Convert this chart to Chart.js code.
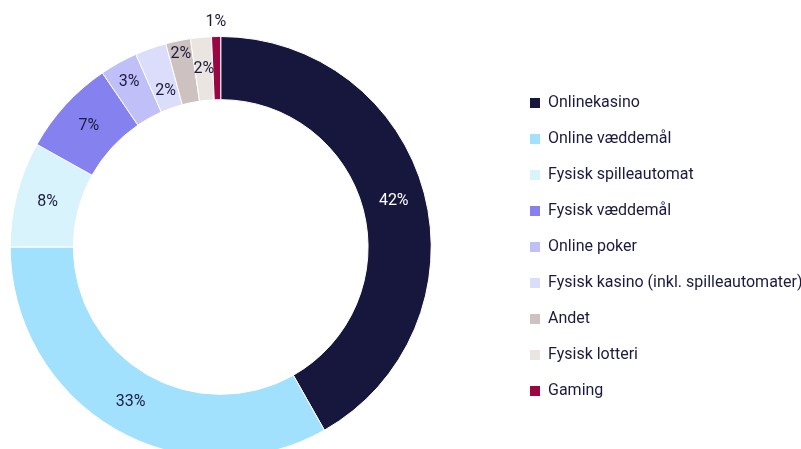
<!DOCTYPE html>
<html>
<head>
<meta charset="utf-8">
<script src="https://cdn.jsdelivr.net/npm/chart.js@4"></script>
<style>
  html, body { margin: 0; padding: 0; width: 801px; height: 449px; overflow: hidden; background: #fff; }
  #wrap { width: 801px; height: 494px; }
</style>
</head>
<body>
<div id="wrap"><canvas id="myChart"></canvas></div>
<script>
const categories = [
  'Onlinekasino',
  'Online væddemål',
  'Fysisk spilleautomat',
  'Fysisk væddemål',
  'Online poker',
  'Fysisk kasino (inkl. spilleautomater)',
  'Andet',
  'Fysisk lotteri',
  'Gaming'
];
const shares = [41.8, 33.2, 8.1, 7.4, 2.9, 2.4, 1.9, 1.6, 0.7];

const sliceColors = [
  '#17163c', // navy
  '#a2e1fd', // lys blå
  '#d9f3fd',
  '#8582f0',
  '#c0bff7',
  '#dcdcfb',
  '#cdc2c0',
  '#ebe5e1',
  '#9c0543'
];
// radial nudge of each percent label from mid-ring (px)
const labelNudge = [0, 0, 0, 0, 10, -13, 18, 0, 46];
const labelColors = ['#ffffff', '#1b1a3f', '#1b1a3f', '#1b1a3f', '#1b1a3f', '#1b1a3f', '#1b1a3f', '#1b1a3f', '#1b1a3f'];

const textColor = '#1b1a3f';
const fontFamily = 'Roboto, sans-serif';

const pctLabels = {
  id: 'pctLabels',
  afterDatasetsDraw(chart) {
    const ctx = chart.ctx;
    const meta = chart.getDatasetMeta(0);
    ctx.save();
    ctx.font = '16px ' + fontFamily;
    ctx.textAlign = 'center';
    ctx.textBaseline = 'middle';
    meta.data.forEach((arc, i) => {
      const p = arc.getProps(['x', 'y', 'startAngle', 'endAngle', 'innerRadius', 'outerRadius'], true);
      const a = (p.startAngle + p.endAngle) / 2;
      const r = (p.innerRadius + p.outerRadius) / 2 + labelNudge[i];
      ctx.fillStyle = labelColors[i];
      ctx.fillText(Math.round(shares[i]) + '%', p.x + Math.cos(a) * r, p.y + Math.sin(a) * r);
    });
    ctx.restore();
  }
};

// move the legend further right than the layout puts it
const legendShift = {
  id: 'legendShift',
  afterLayout(chart) {
    const lg = chart.legend;
    const d = 510 - lg.left;
    lg.left += d;
    lg.right += d;
  }
};

const ctx = document.getElementById('myChart');
new Chart(ctx, {
  type: 'doughnut',
  data: {
    labels: categories,
    datasets: [{
      data: shares,
      backgroundColor: sliceColors,
      borderColor: '#ffffff',
      borderWidth: 1
    }]
  },
  options: {
    responsive: true,
    maintainAspectRatio: false,
    animation: false,
    cutout: '70%',
    layout: { padding: { top: 36, bottom: 36, left: 9, right: 66 } },
    plugins: {
      tooltip: { enabled: false },
      legend: {
        position: 'right',
        labels: {
          boxWidth: 10,
          boxHeight: 10,
          padding: 20,
          color: textColor,
          font: { family: fontFamily, size: 16 },
          generateLabels(chart) {
            const items = Chart.overrides.doughnut.plugins.legend.labels.generateLabels(chart);
            items.forEach(it => { it.strokeStyle = it.fillStyle; it.lineWidth = 0; });
            return items;
          }
        }
      }
    }
  },
  plugins: [pctLabels, legendShift]
});
</script>
</body>
</html>
